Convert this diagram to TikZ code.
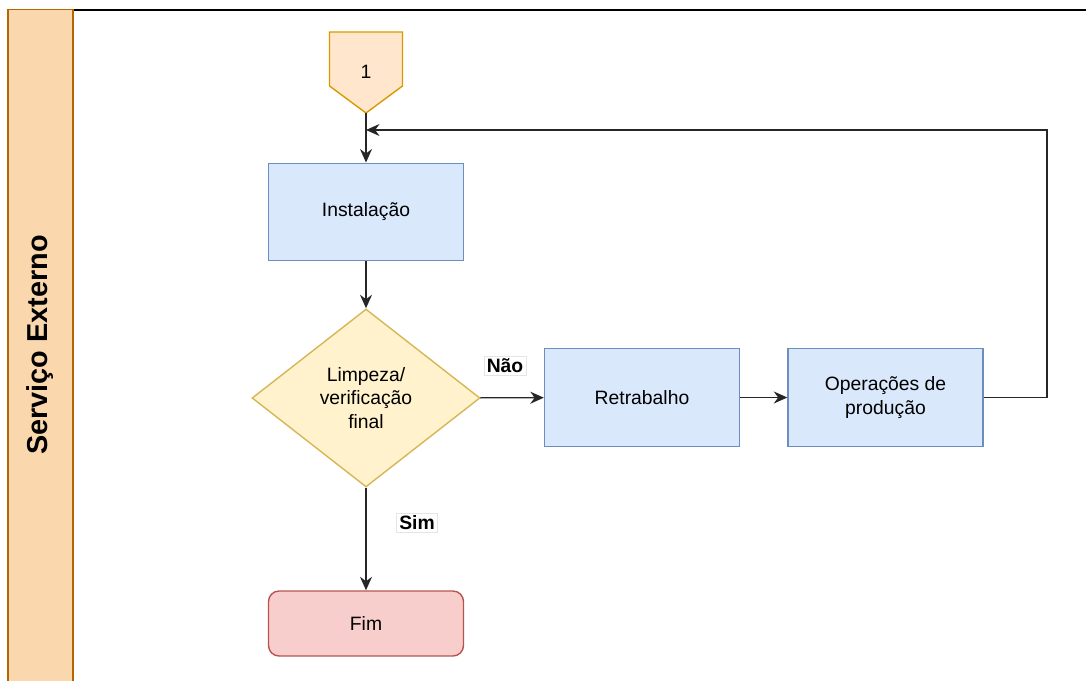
\documentclass[tikz,border=0pt]{standalone}
\usepackage{fontspec}
\setmainfont{Liberation Sans}
\usepackage{tikz}
\usetikzlibrary{calc,positioning,arrows.meta,shapes.geometric}
\definecolor{procblue}{HTML}{DAE8FC}
\definecolor{procedge}{HTML}{6C8EBF}
\definecolor{decfill}{HTML}{FFF2CC}
\definecolor{decedge}{HTML}{D6B656}
\definecolor{endfill}{HTML}{F8CECC}
\definecolor{endedge}{HTML}{B85450}
\definecolor{lanefill}{HTML}{FAD7AC}
\definecolor{laneedge}{HTML}{B46504}
\definecolor{pagefill}{HTML}{FFE6CC}
\definecolor{pageedge}{HTML}{D79B00}
\tikzset{
  box/.style={draw=procedge,fill=procblue,align=center,line width=0.8pt,
              font=\fontsize{11}{13.6}\selectfont,minimum width=3.9cm,minimum height=1.95cm,inner sep=2pt},
  arr/.style={-{Stealth[length=2.7mm,width=2.4mm]},line width=0.8pt,black!85}
}
\begin{document}
\begin{tikzpicture}[lbl/.style={fill=white,draw=black!10,line width=0.3pt,font=\fontsize{11}{13}\selectfont\bfseries,inner sep=1.5pt}]
  \useasboundingbox (0,0) rectangle (21.72,-13.6);
  % lane
  \draw[black,line width=0.8pt] (1.46,-0.2) -- (21.9,-0.2);
  \draw[draw=laneedge,fill=lanefill,line width=0.8pt] (0.16,-0.19) rectangle (1.46,-14);
  \node[rotate=90,font=\fontsize{16.4}{19}\selectfont\bfseries] (lane) at (0.8,-6.9) {Serviço Externo};
  % off-page connector
  \draw[draw=pageedge,fill=pagefill,line width=0.8pt] (6.59,-0.64) -- (8.05,-0.64) -- (8.05,-1.72) -- (7.32,-2.26) -- (6.59,-1.72) -- cycle;
  \node[font=\fontsize{11}{13}\selectfont] (pg) at (7.32,-1.44) {1};
  \coordinate (pgtip) at (7.32,-2.26);
  \coordinate (back) at (7.32,-2.6);
  % flow
  \node[box] (inst) at (7.32,-4.24) {Instalação};
  \node[box,shape=diamond,draw=decedge,fill=decfill,minimum width=4.56cm,minimum height=3.56cm,inner sep=0pt] (lv) at (7.32,-7.96) {Limpeza/\\verificação\\final};
  \node[box] (rt) at (12.84,-7.95) {Retrabalho};
  \node[box] (op) at (17.71,-7.95) {Operações de\\produção};
  \node[box,draw=endedge,fill=endfill,minimum height=1.3cm,rounded corners=6pt] (fim) at (7.32,-12.47) {Fim};
  \draw[arr] (pgtip) -- (inst);
  \draw[arr] (inst) -- (lv);
  \draw[arr] (lv) -- (rt);
  \draw[arr] (rt) -- (op);
  \draw[arr] (op.east) -- (20.94,-7.95) |- (back);
  \draw[arr] (lv) -- (fim);
  \node[lbl] (nao) at (10.1,-7.32) {Não};
  \node[lbl] (sim) at (8.34,-10.46) {Sim};
\end{tikzpicture}
\end{document}
